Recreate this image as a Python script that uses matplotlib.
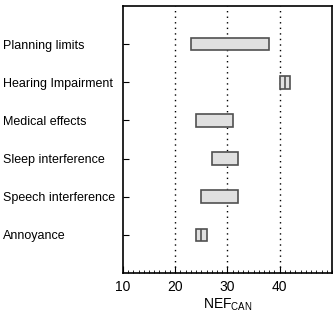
import numpy as np
import matplotlib.pyplot as plt
from matplotlib.ticker import MultipleLocator

plt.rcParams['font.family'] = ['Liberation Sans', 'DejaVu Sans']
plt.rcParams['mathtext.fontset'] = 'custom'
plt.rcParams['mathtext.rm'] = 'Liberation Sans'

# categories from bottom to top
labels = ['Annoyance', 'Speech interference', 'Sleep interference',
          'Medical effects', 'Hearing Impairment', 'Planning limits']
low = [24, 25, 27, 24, 40, 23]
high = [26, 32, 32, 31, 42, 38]
# divider drawn inside the narrow ranges
split = [25, None, None, None, 41, None]

fig = plt.figure(figsize=(3.33, 3.12), dpi=100)
ax = fig.add_axes([0.369, 0.125, 0.628, 0.856])

ypos = np.arange(1, len(labels) + 1)
h = 0.33
widths = np.array(high) - np.array(low)
ax.barh(ypos, widths, left=low, height=h, color='#e0e0e0',
        edgecolor='#505050', linewidth=1.2, zorder=3)
for y, s in zip(ypos, split):
    if s is not None:
        ax.vlines(s, y - h / 2, y + h / 2, color='#505050', linewidth=1.2, zorder=4)

# dotted reference lines
for gx in [20, 30, 40]:
    ax.axvline(gx, color='black', linestyle=(0, (1, 3)), linewidth=1, zorder=1)

ax.set_xlim(10, 50)
ax.set_ylim(0, 7)
ax.set_xticks([10, 20, 30, 40])
ax.xaxis.set_minor_locator(MultipleLocator(1))
ax.tick_params(axis='x', which='major', direction='in', length=5, labelsize=10, pad=5)
ax.tick_params(axis='x', which='minor', direction='in', length=2.5)
ax.set_yticks(ypos)
ax.set_yticklabels(labels, ha='left', fontsize=9)
ax.tick_params(axis='y', direction='in', length=4, pad=86)
ax.set_xlabel('NEF$_{\\rm CAN}$', fontsize=10, labelpad=2)

for sp in ax.spines.values():
    sp.set_linewidth(1.2)

fig.savefig('out.png', dpi=100)
